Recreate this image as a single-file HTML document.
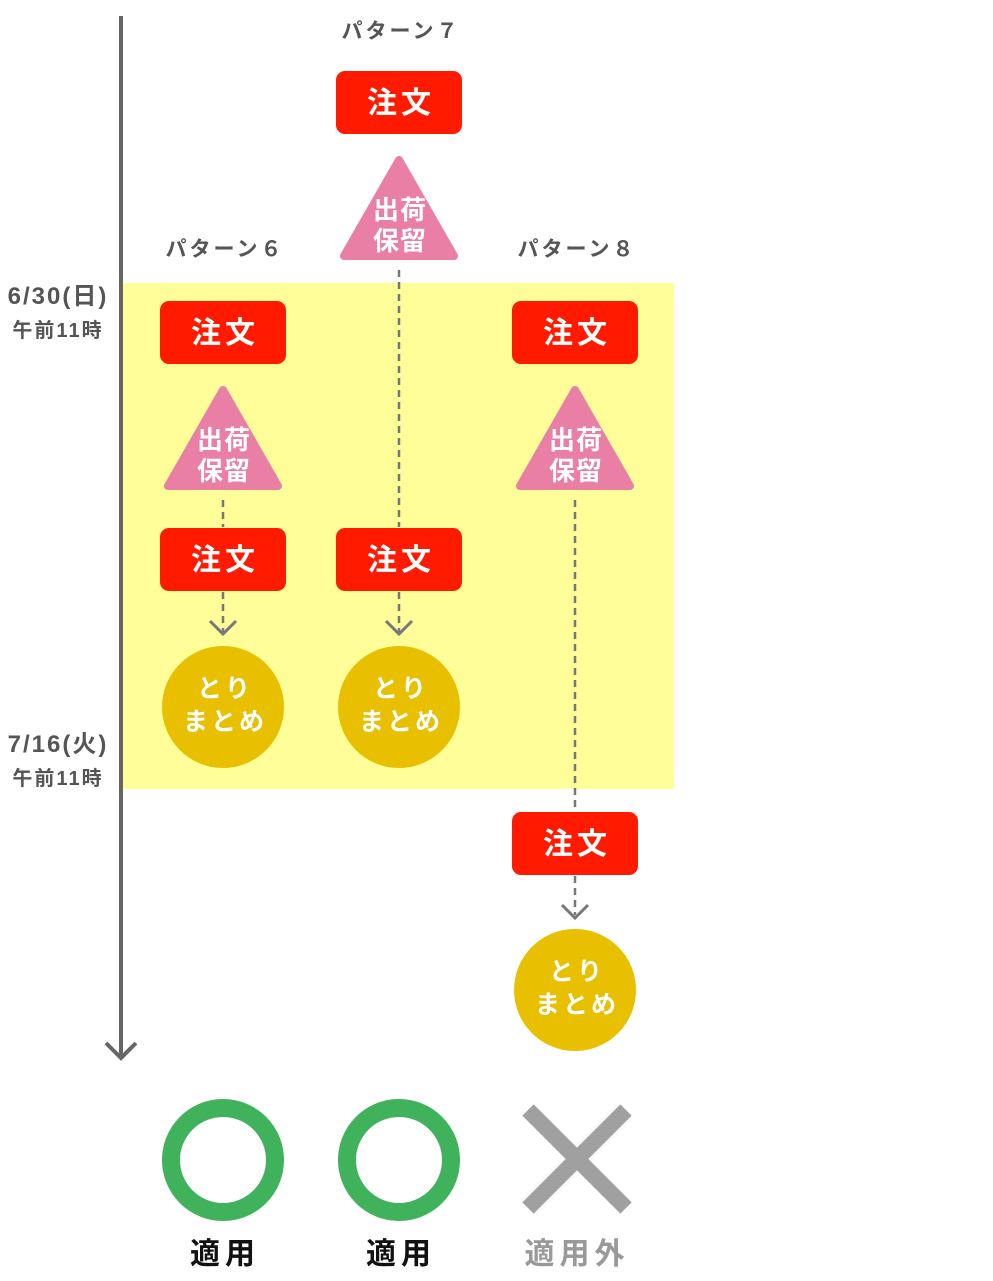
<!DOCTYPE html>
<html><head><meta charset="utf-8"><style>
html,body{margin:0;padding:0;background:#fff}
svg{display:block}
text{font-family:"Liberation Sans","Noto Sans CJK JP",sans-serif;font-weight:bold}
</style></head><body>
<svg width="993" height="1281" viewBox="0 0 993 1281" xmlns="http://www.w3.org/2000/svg">
<rect x="123" y="283" width="551" height="506" fill="#fffe99"/>
<line x1="121" y1="16" x2="121" y2="1057" stroke="#666" stroke-width="4"/>
<polyline points="106,1043 121,1058 136,1043" fill="none" stroke="#666" stroke-width="4"/>
<g fill="#555" text-anchor="middle">
<text x="58" y="304" font-size="24" letter-spacing="2">6/30(日)</text>
<text x="58" y="337" font-size="20" letter-spacing="2">午前11時</text>
<text x="58" y="752" font-size="24" letter-spacing="2">7/16(火)</text>
<text x="58" y="785" font-size="20" letter-spacing="2">午前11時</text>
<text x="401" y="38" font-size="21" letter-spacing="3">パターン７</text>
<text x="225" y="256" font-size="21" letter-spacing="3">パターン６</text>
<text x="577" y="256" font-size="21" letter-spacing="3">パターン８</text>
</g>
<g stroke="#777" stroke-width="2.5" stroke-dasharray="7,5" fill="none">
<line x1="399" y1="270" x2="399" y2="527"/>
<line x1="223" y1="500" x2="223" y2="527"/>
<line x1="223" y1="592" x2="223" y2="632"/>
<line x1="399" y1="592" x2="399" y2="632"/>
<line x1="575" y1="500" x2="575" y2="811"/>
<line x1="575" y1="876" x2="575" y2="915"/>
</g>
<g stroke="#777" stroke-width="3" fill="none">
<polyline points="210,621 223,634 236,621"/>
<polyline points="386,621 399,634 412,621"/>
<polyline points="562,905 575,918 588,905"/>
</g>
<g fill="#ff1a00">
<rect x="336" y="71" width="126" height="63" rx="9"/>
<rect x="160" y="301" width="126" height="63" rx="9"/>
<rect x="512" y="301" width="126" height="63" rx="9"/>
<rect x="160" y="528" width="126" height="63" rx="9"/>
<rect x="336" y="528" width="126" height="63" rx="9"/>
<rect x="512" y="812" width="126" height="63" rx="9"/>
</g>
<g fill="#fff" font-size="30" text-anchor="middle" letter-spacing="4">
<text x="401" y="113">注文</text>
<text x="225" y="343">注文</text>
<text x="577" y="343">注文</text>
<text x="225" y="570">注文</text>
<text x="401" y="570">注文</text>
<text x="577" y="854">注文</text>
</g>
<g fill="#ea7fa5" stroke="#ea7fa5" stroke-width="8" stroke-linejoin="round">
<polygon points="399,160 344,256 454,256"/>
<polygon points="223,390 168,486 278,486"/>
<polygon points="575,390 520,486 630,486"/>
</g>
<g fill="#fff" font-size="26" text-anchor="middle" letter-spacing="1">
<text x="400" y="219">出荷</text><text x="400" y="250">保留</text>
<text x="224" y="449">出荷</text><text x="224" y="480">保留</text>
<text x="576" y="449">出荷</text><text x="576" y="480">保留</text>
</g>
<g fill="#e8c000">
<circle cx="223" cy="707" r="61"/>
<circle cx="399" cy="707" r="61"/>
<circle cx="575" cy="990" r="61"/>
</g>
<g fill="#fff" font-size="25" text-anchor="middle" letter-spacing="3">
<text x="225" y="697">とり</text><text x="225" y="730">まとめ</text>
<text x="401" y="697">とり</text><text x="401" y="730">まとめ</text>
<text x="577" y="980">とり</text><text x="577" y="1013">まとめ</text>
</g>
<circle cx="223" cy="1160" r="52" fill="none" stroke="#40b25c" stroke-width="18"/>
<circle cx="399" cy="1160" r="52" fill="none" stroke="#40b25c" stroke-width="18"/>
<g stroke="#a0a0a0" stroke-width="16">
<line x1="528" y1="1110" x2="626" y2="1208"/>
<line x1="626" y1="1110" x2="528" y2="1208"/>
</g>
<g font-size="30" text-anchor="middle" letter-spacing="5">
<text x="225" y="1264" fill="#111">適用</text>
<text x="401" y="1264" fill="#111">適用</text>
<text x="577" y="1264" fill="#999">適用外</text>
</g>
</svg>
</body></html>
